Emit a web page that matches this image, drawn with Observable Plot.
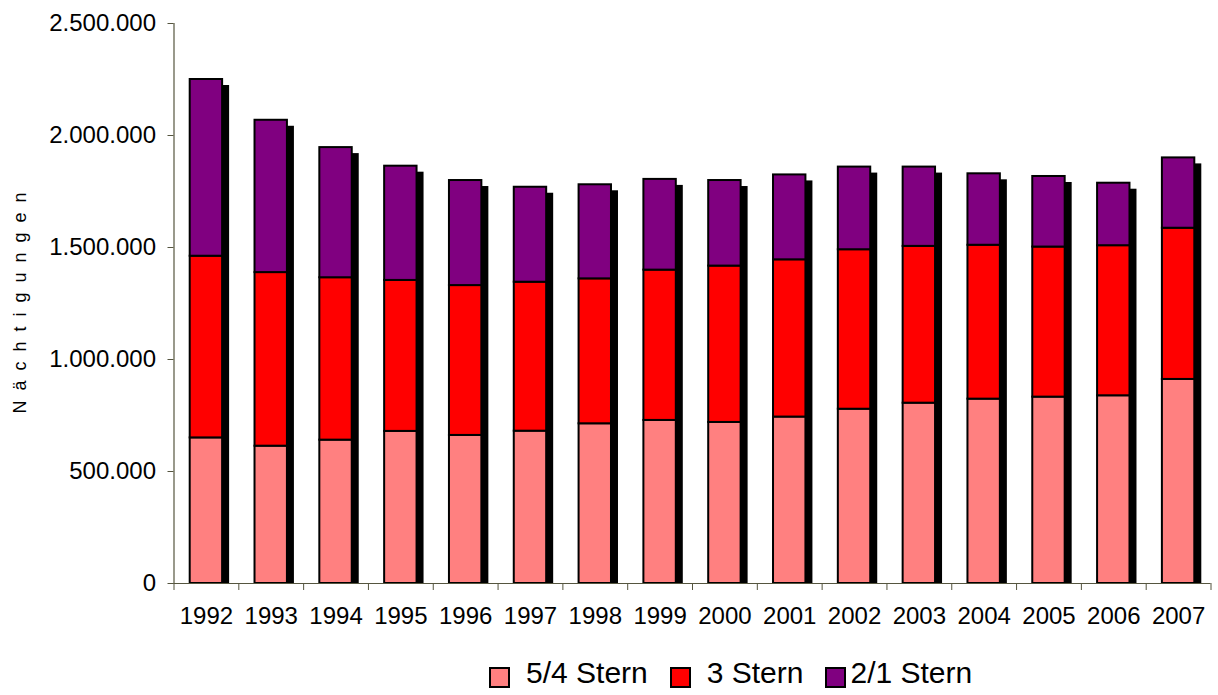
<!DOCTYPE html>
<html><head><meta charset="utf-8">
<script src="https://cdn.jsdelivr.net/npm/d3@7"></script>
<script src="https://cdn.jsdelivr.net/npm/@observablehq/plot@0.6"></script>
<style>
body{margin:0;background:#fff;font-family:"Liberation Sans",Arial,sans-serif;}
#wrap{position:relative;width:1218px;height:695px;}
#ytitle{position:absolute;left:20px;top:298px;transform:translate(-50%,-50%) rotate(-90deg);white-space:nowrap;font-size:18px;letter-spacing:10px;color:#000;}
#legend{position:absolute;left:489px;top:656px;display:flex;align-items:center;font-size:30px;line-height:33px;color:#000;}
#legend .item{display:flex;align-items:center;margin-right:22px;}
#legend .sw{width:21px;height:21px;box-sizing:border-box;border:2px solid #000;position:relative;top:5px;margin-right:16px;}
</style></head><body>
<div id="wrap"><div id="chart"></div><div id="ytitle"></div><div id="legend"></div></div>
<script>
const years = ["1992","1993","1994","1995","1996","1997","1998","1999","2000","2001","2002","2003","2004","2005","2006","2007"];
const seriesNames = ["5/4 Stern","3 Stern","2/1 Stern"];
const seriesColors = ["#FF8080","#FF0000","#800080"];
const stern54 = [650000,613000,640000,679000,661000,680000,713000,728000,719000,743000,778000,805000,823000,832000,838000,911000];
const stern3  = [811000,775000,725000,674000,669000,665000,647000,671000,698000,702000,712000,700000,687000,670000,670000,675000];
const stern21 = [789000,680000,581000,510000,469000,424000,420000,405000,382000,379000,369000,354000,319000,315000,279000,314000];
const yTicks = [0,500000,1000000,1500000,2000000,2500000];
const yTitle = "Nächtigungen";

const seriesValues = [stern54, stern3, stern21];
const rows = [];
years.forEach((y, i) => seriesNames.forEach((s, k) => rows.push({year: y, series: s, value: seriesValues[k][i]})));
const totals = years.map((y, i) => ({year: y, total: stern54[i] + stern3[i] + stern21[i]}));

const W = 1218, H = 640, mL = 173.5, mR = 7.5;
const step = (W - mL - mR) / years.length;
const axisColor = "#55553f";
const fmt = d3.formatLocale({decimal: ",", thousands: ".", grouping: [3], currency: ["", "€"]}).format(",d");

const chart = Plot.plot({
  width: W, height: H,
  marginLeft: mL, marginRight: mR, marginTop: 23, marginBottom: 57,
  style: {fontFamily: "'Liberation Sans', Arial, sans-serif", fontSize: "24px", color: "#000", background: "#fff"},
  x: {domain: years, paddingInner: 0.5, paddingOuter: 0.25, round: false},
  y: {domain: [0, 2500000]},
  color: {domain: seriesNames, range: seriesColors},
  marks: [
    Plot.barY(totals, {x: "year", y: "total", fill: "#000", dx: 7, insetTop: 6}),
    Plot.barY(rows, {x: "year", y: "value", fill: "series", stroke: "#000", strokeWidth: 2}),
    Plot.ruleY([0], {stroke: axisColor, strokeWidth: 1.2}),
    Plot.frame({anchor: "left", stroke: axisColor, strokeWidth: 1.2}),
    Plot.axisY({ticks: yTicks, tickFormat: fmt, tickSize: 6, tickPadding: 12, stroke: axisColor, fill: "#000", label: null}),
    Plot.axisX({tickSize: 7, dx: -step / 2, text: null, label: null, stroke: axisColor}),
    Plot.axisX({ticks: [years[years.length - 1]], tickSize: 7, dx: step / 2, text: null, label: null, stroke: axisColor}),
    Plot.axisX({tickSize: 0, tickPadding: 23, label: null, fill: "#000"})
  ]
});
document.getElementById("chart").appendChild(chart);
document.getElementById("ytitle").textContent = yTitle;

const legend = document.getElementById("legend");
seriesNames.forEach((s, k) => {
  const item = document.createElement("div");
  item.className = "item";
  const sw = document.createElement("div");
  sw.className = "sw";
  sw.style.background = seriesColors[k];
  if (k === 2) sw.style.marginRight = "4px";
  const t = document.createElement("span");
  t.textContent = s;
  item.appendChild(sw); item.appendChild(t);
  legend.appendChild(item);
});
</script>
</body></html>
